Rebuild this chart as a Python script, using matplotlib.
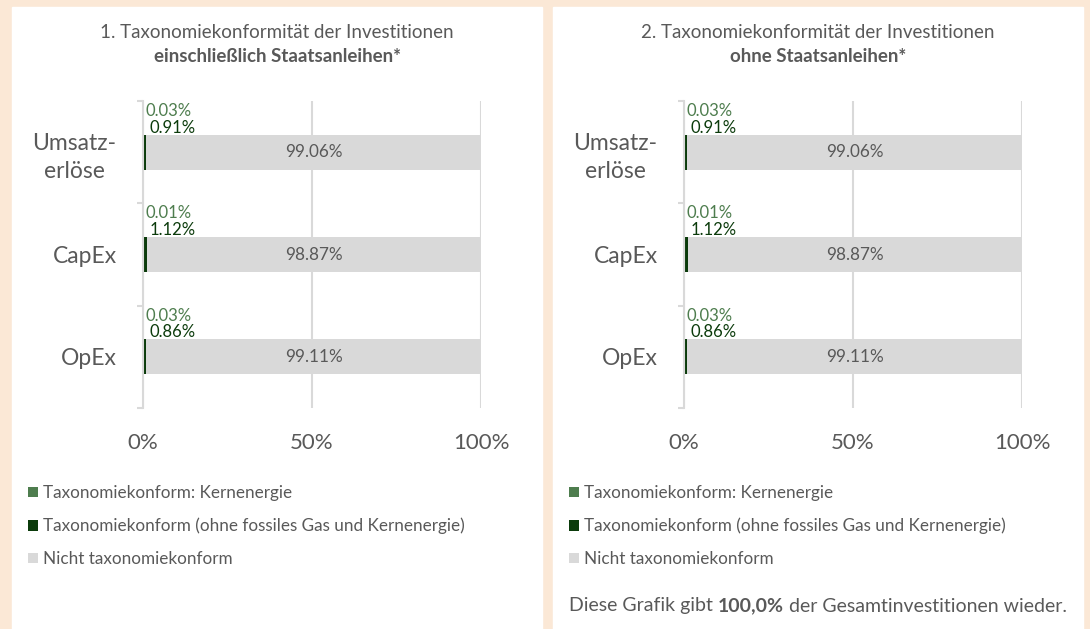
import matplotlib.pyplot as plt
from matplotlib.patches import Rectangle

plt.rcParams['font.family'] = ['Lato', 'DejaVu Sans']

categories = ['Umsatz-\nerlöse', 'CapEx', 'OpEx']
kern = [0.03, 0.01, 0.03]
konform = [0.91, 1.12, 0.86]
nicht = [99.06, 98.87, 99.11]
labels = ['Taxonomiekonform: Kernenergie',
          'Taxonomiekonform (ohne fossiles Gas und Kernenergie)',
          'Nicht taxonomiekonform']
titles = [('1. Taxonomiekonformität der Investitionen', 'einschließlich Staatsanleihen*'),
          ('2. Taxonomiekonformität der Investitionen', 'ohne Staatsanleihen*')]

c_kern = '#4E7D4E'
c_konf = '#0B3B0B'
c_nicht = '#D9D9D9'
c_text = '#595959'
W, H = 1090, 629

fig = plt.figure(figsize=(10.9, 6.29), dpi=100)
fig.patch.set_facecolor('#FBE8D6')

panels = [(12, 542), (553, 1083)]
axes_x = [(143, 481), (684, 1022)]

for p, ((px0, px1), (ax0, ax1), (t1, t2)) in enumerate(zip(panels, axes_x, titles)):
    fig.patches.append(Rectangle((px0 / W, 0), (px1 - px0) / W, 1 - 7 / H,
                                 transform=fig.transFigure, color='white', zorder=-5))
    cx = (px0 + px1) / 2 / W
    fig.text(cx, 1 - 33 / H, t1, ha='center', va='center', fontsize=13.5, color=c_text)
    fig.text(cx, 1 - 57 / H, t2, ha='center', va='center', fontsize=13.5, color=c_text,
             fontweight='bold')

    ax = fig.add_axes([ax0 / W, 1 - 408 / H, (ax1 - ax0) / W, 307 / H])
    ax.set_zorder(2)
    ax.set_facecolor('none')
    y = list(range(len(categories)))
    h = 0.34
    b1 = ax.barh(y, kern, height=h, color=c_kern, label=labels[0])
    b2 = ax.barh(y, konform, left=kern, height=h, color=c_konf, label=labels[1])
    left3 = [a + b for a, b in zip(kern, konform)]
    b3 = ax.barh(y, nicht, left=left3, height=h, color=c_nicht, label=labels[2])

    for i in y:
        ax.annotate(f'{kern[i]:.2f}%', xy=(0, i - h / 2), xytext=(2, 17),
                    textcoords='offset points', ha='left', va='center',
                    fontsize=12, color=c_kern)
        ax.annotate(f'{konform[i]:.2f}%', xy=(0, i - h / 2), xytext=(4.5, 5),
                    textcoords='offset points', ha='left', va='center',
                    fontsize=12, color=c_konf)
        ax.text(left3[i] + nicht[i] / 2, i, f'{nicht[i]:.2f}%', ha='center',
                va='center', fontsize=12.3, color=c_text)

    ax.set_xlim(0, 100)
    ax.set_ylim(2.5, -0.5)
    ax.set_xticks([0, 50, 100])
    ax.set_xticklabels(['0%', '50%', '100%'])
    ax.set_yticks(y)
    ax.set_yticklabels(categories)
    ax.set_yticks([-0.5, 0.5, 1.5, 2.5], minor=True)
    ax.tick_params(axis='y', which='major', length=0, pad=19, labelsize=16.5,
                   labelcolor=c_text)
    ax.tick_params(axis='y', which='minor', length=4, width=1.5, color=c_nicht)
    ax.tick_params(axis='x', length=0, pad=18, labelsize=16, labelcolor=c_text)
    for lab in ax.get_yticklabels():
        lab.set_multialignment('center')
        lab.set_linespacing(1.4)
    for s in ['top', 'right', 'bottom']:
        ax.spines[s].set_visible(False)
    ax.spines['left'].set_color(c_nicht)
    ax.spines['left'].set_linewidth(1.5)
    ax.grid(axis='x', color=c_nicht, linewidth=1.5)
    ax.set_axisbelow(True)

    leg = ax.legend(handles=[b1, b2, b3], loc='upper left',
                    bbox_to_anchor=((px0 + 16) / W, 1 - 485 / H),
                    bbox_transform=fig.transFigure, frameon=False, fontsize=12.3,
                    handlelength=0.6, handleheight=0.6, handletextpad=0.3,
                    labelspacing=0.98, borderaxespad=0, borderpad=0)
    for t in leg.get_texts():
        t.set_color(c_text)

# footnote in right panel with bold part
fig.canvas.draw()
r = fig.canvas.get_renderer()
parts = [('Diese Grafik gibt ', 'normal'), ('100,0%', 'bold'),
         (' der Gesamtinvestitionen wieder.', 'normal')]
texts = [fig.text(0, 1 - 606 / H, s, fontsize=14, fontweight=w, color=c_text,
                  va='center', ha='left') for s, w in parts]
widths = [t.get_window_extent(r).width for t in texts]
x = (panels[1][0] + panels[1][1]) / 2 - sum(widths) / 2
for t, wd in zip(texts, widths):
    t.set_x(x / W)
    x += wd

fig.savefig('out.png', dpi=100, facecolor=fig.get_facecolor())
